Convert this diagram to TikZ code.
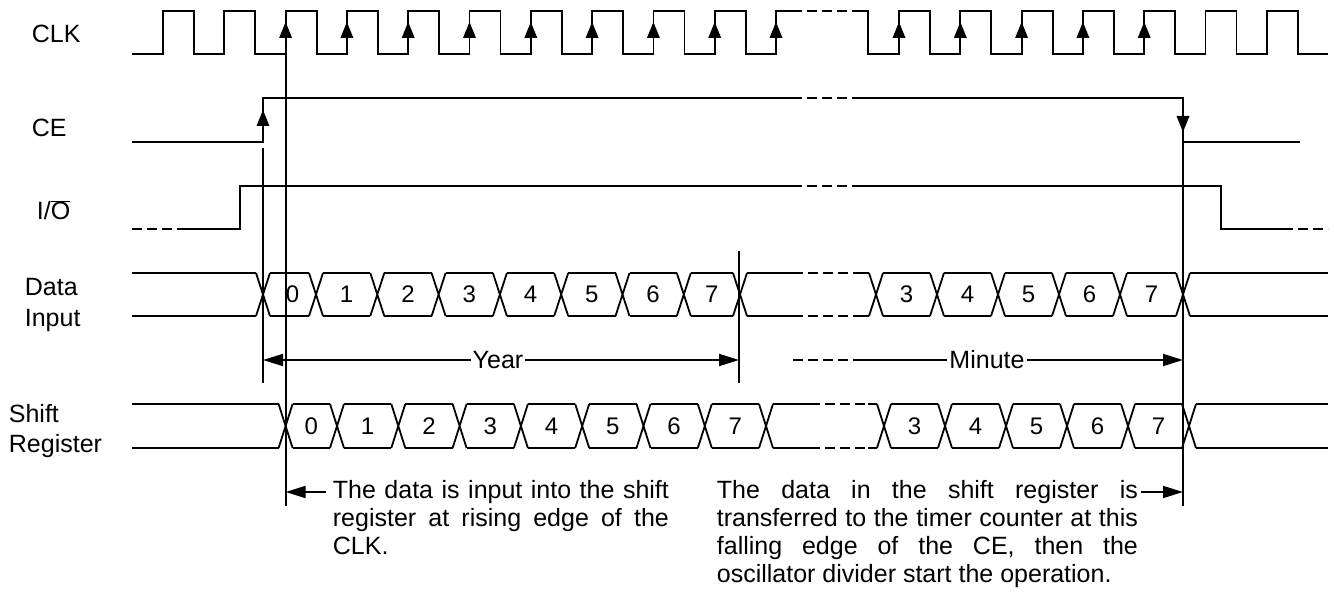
\documentclass[tikz,border=0pt]{standalone}
\usepackage{fontspec}
\setmainfont{Liberation Sans}
\usetikzlibrary{arrows.meta}
\begin{document}
\begin{tikzpicture}[x=1pt,y=-1pt,line width=1.8pt,line join=miter,
  dsh/.style={line width=1.5pt,dash pattern=on 10pt off 5pt},
  lbl/.style={font=\fontsize{25}{30}\selectfont,anchor=base west,inner sep=0pt},
  dig/.style={font=\fontsize{24}{28}\selectfont,inner sep=0pt},
  ann/.style={font=\fontsize{25}{28}\selectfont,anchor=base west,inner sep=0pt},
  harr/.style={-{Triangle[length=20pt,width=12pt]}},
  dharr/.style={{Triangle[length=20pt,width=12pt]}-{Triangle[length=20pt,width=12pt]}},
  uparrow/.pic={\fill (-6.5,0) -- (6.5,0) -- (0,-16) -- cycle;},
  downarrow/.pic={\fill (-6.5,0) -- (6.5,0) -- (0,16) -- cycle;},
  dimtxt/.style={font=\fontsize{25}{30}\selectfont,fill=white,inner sep=2pt}
]
\useasboundingbox (0,0) rectangle (1334,596);

% ---------- labels ----------
\node[lbl] (lclk) at (31,43) {CLK};
\node[lbl] (lce) at (31,137) {CE};
\node[lbl] (lio) at (36,220) {I/$\overline{\mbox{O}}$};
\node[lbl] (ldata) at (24,295) {Data};
\node[lbl] (linput) at (24,326) {Input};
\node[lbl] (lshift) at (8,422) {Shift};
\node[lbl] (lreg) at (8,452) {Register};

% ---------- CLK ----------
\draw (132,54)
  \foreach \k [evaluate=\k as \r using 163+61.3*\k] in {0,...,9} {
    -- (\r,54) -- (\r,11) -- (\r+31,11) -- (\r+31,54) }
  -- (776,54) -- (776,11) -- (792,11);
\draw[dsh] (792,11) -- (853,11);
\draw (853,11) -- (868,11) -- (868,54)
  \foreach \k [evaluate=\k as \r using 899+61.3*\k] in {0,...,6} {
    -- (\r,54) -- (\r,11) -- (\r+31,11) -- (\r+31,54) }
  -- (1328,54);
\foreach \k in {2,...,10} \pic at ({163+61.3*\k},38) {uparrow};
\foreach \k in {0,...,4} \pic at ({899+61.3*\k},38) {uparrow};

% ---------- CE ----------
\draw (132,142) -- (263,142) -- (263,98) -- (792,98);
\draw[dsh] (792,98) -- (853,98);
\draw (853,98) -- (1183,98) -- (1183,142) -- (1300,142);
\pic at (263,126) {uparrow};
\pic at (1183,116) {downarrow};

% ---------- I/O ----------
\draw[dsh] (132,229) -- (178,229);
\draw (178,229) -- (240,229) -- (240,186) -- (792,186);
\draw[dsh] (792,186) -- (853,186);
\draw (853,186) -- (1221,186) -- (1221,229) -- (1283,229);
\draw[dsh] (1283,229) -- (1328,229);

% ---------- vertical markers ----------
\draw (285.6,54) -- (285.6,506);
\draw (263,148) -- (263,383);
\draw (739,251) -- (739,383);
\draw (1183,142) -- (1183,506);

% ---------- Data Input ----------
\draw (132,273) -- (256,273);
\draw (132,316) -- (256,316);
\foreach \c in {263,316,377.3,438.6,499.9,561.2,622.5,683.8,740,876,937,998,1059,1120,1183}
  \draw (\c-7,273) -- (\c+7,316) (\c-7,316) -- (\c+7,273);
\foreach \a/\b/\d/\o in {263/316/0/3,316/377.3/1/0,377.3/438.6/2/0,438.6/499.9/3/0,499.9/561.2/4/0,561.2/622.5/5/0,622.5/683.8/6/0,683.8/740/7/0} {
  \draw (\a+7,273) -- (\b-7,273) (\a+7,316) -- (\b-7,316);
  \node[dig] (di\d) at ({(\a+\b)/2+\o},294.5) {\d};
}
\foreach \a/\b/\d in {876/937/3,937/998/4,998/1059/5,1059/1120/6,1120/1183/7} {
  \draw (\a+7,273) -- (\b-7,273) (\a+7,316) -- (\b-7,316);
  \node[dig] (dr\d) at ({(\a+\b)/2},294.5) {\d};
}
\draw (747,273) -- (793,273) (747,316) -- (793,316);
\draw[dsh] (793,273) -- (860,273) (793,316) -- (860,316);
\draw (860,273) -- (869,273) (860,316) -- (869,316);
\draw (1190,273) -- (1328,273) (1190,316) -- (1328,316);

% ---------- Shift Register ----------
\draw (132,404) -- (278.6,404);
\draw (132,448) -- (278.6,448);
\foreach \c in {285.6,337,398.3,459.6,520.9,582.2,643.5,704.8,766,884,945,1006,1067,1128,1189}
  \draw (\c-7,404) -- (\c+7,448) (\c-7,448) -- (\c+7,404);
\foreach \a/\b/\d in {285.6/337/0,337/398.3/1,398.3/459.6/2,459.6/520.9/3,520.9/582.2/4,582.2/643.5/5,643.5/704.8/6,704.8/766/7} {
  \draw (\a+7,404) -- (\b-7,404) (\a+7,448) -- (\b-7,448);
  \node[dig] (si\d) at ({(\a+\b)/2},426) {\d};
}
\foreach \a/\b/\d in {884/945/3,945/1006/4,1006/1067/5,1067/1128/6,1128/1189/7} {
  \draw (\a+7,404) -- (\b-7,404) (\a+7,448) -- (\b-7,448);
  \node[dig] (sr\d) at ({(\a+\b)/2},426) {\d};
}
\draw (773,404) -- (810,404) (773,448) -- (810,448);
\draw[dsh] (810,404) -- (868,404) (810,448) -- (868,448);
\draw (868,404) -- (877,404) (868,448) -- (877,448);
\draw (1196,404) -- (1328,404) (1196,448) -- (1328,448);

% ---------- Year / Minute ----------
\coordinate (yl) at (263,360);
\coordinate (yr) at (739,360);
\draw[dharr] (yl) -- (yr);
\node[dimtxt] (year) at (498,360) {Year};
\coordinate (ml) at (793,360);
\coordinate (mm) at (853,360);
\coordinate (mr) at (1183,360);
\draw[dsh] (ml) -- (mm);
\draw[harr] (mm) -- (mr);
\node[dimtxt] (minute) at (987,360) {Minute};

% ---------- annotations ----------
\coordinate (a1t) at (326,492);
\coordinate (a1h) at (285.6,492);
\draw[harr] (a1t) -- (a1h);
\node[ann] (a1l1) at (332,498) {\makebox[336pt][s]{The data is input into the shift}};
\node[ann] (a1l2) at (332,526) {\makebox[336pt][s]{register at rising edge of the}};
\node[ann] (a1l3) at (332,554) {CLK.};

\coordinate (a2t) at (1141,492);
\coordinate (a2h) at (1183,492);
\draw[harr] (a2t) -- (a2h);
\node[ann] (a2l1) at (716,498) {\makebox[421pt][s]{The data in the shift register is}};
\node[ann] (a2l2) at (716,526) {\makebox[421pt][s]{transferred to the timer counter at this}};
\node[ann] (a2l3) at (716,554) {\makebox[421pt][s]{falling edge of the CE, then the}};
\node[ann] (a2l4) at (716,582) {oscillator divider start the operation.};
\end{tikzpicture}
\end{document}
